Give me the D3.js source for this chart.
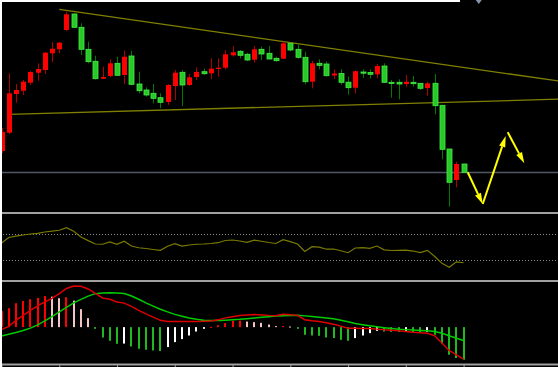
<!DOCTYPE html>
<html><head><meta charset="utf-8">
<script src="https://cdn.jsdelivr.net/npm/d3@7"></script>
<style>html,body{margin:0;padding:0;background:#000;overflow:hidden}svg{display:block}</style>
</head><body>
<script>
// ---- data ----
const open  = [149,167.3,206,209.3,217.3,227.3,230,246.7,250.7,270,286,272.7,250.7,238.7,221.3,224,236.7,225,244,216,210,206.7,202.3,198,214,227.7,215,223,228.3,226.7,231,232.3,244.7,248.7,245.7,240.3,250.7,246.7,241.7,241.3,256.7,250.7,242.7,218.3,236.7,236,224.5,226.5,217.8,212.3,228,227.5,225.7,234,217.7,217.7,216,217.7,216.7,212,216.7,194.7,151,120,136];
const high  = [172,226.7,216,220,229,236.7,248,258,258.3,288.3,286.7,276.7,258.3,244.3,233.3,240.7,243.3,249.3,249.3,228.3,212.7,216,206.7,216,230,230,226,232.7,231.3,241.7,241.7,250,254,250,247.3,254,253.3,254,243.3,258.3,257.3,256.7,248.3,239.3,240.7,238.3,230.5,230.7,223.5,229.5,230.7,230.7,236,236.7,220,220.7,225,224,217,218.3,226,195,151,138.3,136];
const low   = [147,166,197.3,205,215,219.3,226,238,246.7,269,272,245,236.7,220.5,221,222.7,224,216,215,206.7,203.3,196.7,191.7,195,200,194,214,220,225,220.7,223.3,230.7,243.3,241.7,239,237.3,240,240.7,238.3,241,248.7,241.3,215.7,211.7,230.7,223.3,221,215.3,205.5,206.7,222.2,221.5,221.7,217,202.3,200.7,213.3,213.3,210,204.3,185.7,140.7,93.3,112.7,127.7];
const close = [168,206.7,210,218.3,228,231,247.3,251.3,257.3,285.7,272.7,250.7,238.3,221.3,223,236.7,224.7,243.3,215.7,209.3,205,201.7,197.7,215,227.3,215,222.7,228,226.3,231.3,232.3,245.7,247.7,244.7,240,250.7,246,241,239.3,256.7,250,242.7,218.3,236.7,234.7,224.3,226.5,217.7,212.3,228.8,227.2,225.7,234,217.7,216.7,216,218.3,216.3,211.7,216.7,194.3,150.7,117.7,136,127.7];

const rsi = [56.2,64.6,66.6,68.5,70,71.1,73.1,74.3,75.8,79.7,74.2,65.4,59.8,54.6,54.2,57.7,54.2,58.8,51.5,48.8,47.7,46.2,44.9,51.1,55.1,51.5,53.1,54.2,54.6,55.4,56.6,60,60.8,59.2,57.2,60.5,58.8,56.9,55.4,61.2,58.2,54.6,43.1,50.5,49.7,46.6,46.9,44.2,41.2,48.5,48.9,48,51.5,45.7,44.6,44.9,45.1,43.8,41.5,44.9,35.4,24.9,18.8,27.2,25.8];
const rsiLevels = [30, 70];

const hist = [0.16,0.19,0.24,0.263,0.28,0.293,0.313,0.306,0.29,0.30,0.266,0.18,0.09,-0.017,-0.104,-0.137,-0.167,-0.165,-0.194,-0.217,-0.227,-0.234,-0.24,-0.20,-0.15,-0.12,-0.084,-0.044,-0.017,0.003,0.02,0.04,0.063,0.066,0.056,0.05,0.043,0.026,0.01,0.012,0.006,-0.017,-0.077,-0.084,-0.087,-0.104,-0.11,-0.127,-0.137,-0.11,-0.084,-0.06,-0.037,-0.044,-0.047,-0.048,-0.044,-0.05,-0.054,-0.047,-0.077,-0.167,-0.277,-0.31,-0.327];
const macdLine = [-0.025,0.008,0.068,0.118,0.168,0.213,0.253,0.288,0.336,0.388,0.413,0.411,0.383,0.338,0.293,0.28,0.253,0.241,0.208,0.168,0.133,0.101,0.068,0.057,0.056,0.056,0.056,0.056,0.058,0.062,0.073,0.093,0.105,0.116,0.121,0.126,0.123,0.118,0.115,0.13,0.125,0.118,0.075,0.063,0.057,0.045,0.028,0.01,-0.01,-0.012,-0.013,-0.014,-0.02,-0.027,-0.032,-0.037,-0.045,-0.052,-0.057,-0.062,-0.087,-0.16,-0.234,-0.279,-0.322];
const signalLine = [-0.09,-0.072,-0.054,-0.033,-0.01,0.023,0.063,0.106,0.153,0.198,0.243,0.278,0.311,0.336,0.343,0.346,0.343,0.338,0.313,0.28,0.243,0.211,0.179,0.153,0.128,0.11,0.091,0.078,0.068,0.066,0.066,0.069,0.073,0.078,0.085,0.091,0.098,0.105,0.111,0.115,0.118,0.119,0.113,0.107,0.099,0.091,0.083,0.069,0.053,0.036,0.024,0.013,0.004,-0.005,-0.013,-0.021,-0.025,-0.029,-0.033,-0.037,-0.044,-0.061,-0.087,-0.111,-0.134];

// trend lines: two anchors [bar index, price], extended to right edge
const upperTrend = [[8, 290.7], [40, 257.5]];
const lowerTrend = [[1, 185.7], [60, 197.4]];
// hand-drawn yellow arrows: [bar index, price]
const arrowZigzag = [[64.57, 127.7], [66.65, 96], [69.83, 164]];
const arrowLast = [[70.11, 167.7], [72.41, 136.7]];
const timeTicks = [0, 8, 16, 24, 32, 40, 48, 56, 64];
const shiftMarker = 66.1;

// ---- drawing ----
const W = 558, H = 367;
const n = close.length;
const svg = d3.select("body").append("svg").attr("width", W).attr("height", H);
svg.append("rect").attr("width", W).attr("height", H).attr("fill", "#000");

const x = d3.scaleLinear().domain([0, n - 1]).range([1.5, 463.6]);
const y = d3.scaleLinear().domain([88, 298]).range([212, 2]);
const yR = d3.scaleLinear().domain([0, 100]).range([279.5, 214.5]);
const yM = d3.scaleLinear().domain([-0.37, 0.463]).range([364, 281]);

const defs = svg.append("defs");
defs.append("clipPath").attr("id", "cMain").append("rect").attr("x", 0).attr("y", 0).attr("width", W).attr("height", 212);
defs.append("clipPath").attr("id", "cRsi").append("rect").attr("x", 0).attr("y", 214).attr("width", W).attr("height", 66);
defs.append("clipPath").attr("id", "cMacd").append("rect").attr("x", 0).attr("y", 282).attr("width", W).attr("height", 82);

const main = svg.append("g").attr("clip-path", "url(#cMain)");
const xEnd = x.invert(W);

function trend(anchors) {
  const [[i1, p1], [i2, p2]] = anchors;
  const k = (p2 - p1) / (i2 - i1);
  return [[i1, p1], [xEnd, p1 + k * (xEnd - i1)]];
}
const tl = d3.line().x(d => x(d[0])).y(d => y(d[1]));
[upperTrend, lowerTrend].forEach(a => {
  main.append("path").attr("d", tl(trend(a))).attr("fill", "none")
    .attr("stroke", "#808000").attr("stroke-width", 1.3);
});

// bid line
main.append("line").attr("x1", 0).attr("x2", W)
  .attr("y1", Math.round(y(close[n - 1])) + 0.5).attr("y2", Math.round(y(close[n - 1])) + 0.5)
  .attr("stroke", "#4f5866").attr("stroke-width", 1.5);

const idx = d3.range(n);
const up = i => close[i] >= open[i];
// wicks
main.selectAll(".wick").data(idx).enter().append("line")
  .attr("x1", i => Math.round(x(i)) + 0.5).attr("x2", i => Math.round(x(i)) + 0.5)
  .attr("y1", i => y(high[i])).attr("y2", i => y(low[i]))
  .attr("stroke", i => up(i) ? "#b00000" : "#007a00").attr("stroke-width", 1);
// bodies
main.selectAll(".body").data(idx).enter().append("rect")
  .attr("x", i => Math.round(x(i)) - 2)
  .attr("y", i => y(Math.max(open[i], close[i])))
  .attr("width", 5)
  .attr("height", i => Math.max(1.2, Math.abs(y(open[i]) - y(close[i]))))
  .attr("fill", i => up(i) ? "#ff0000" : "#28c828")
  .attr("stroke", i => up(i) ? "#ff0000" : "#44ee44")
  .attr("stroke-width", i => up(i) ? 0 : 0.8);

// arrows
function arrow(g, a, b) {
  const x1 = x(a[0]), y1 = y(a[1]), x2 = x(b[0]), y2 = y(b[1]);
  const dx = x2 - x1, dy = y2 - y1, L = Math.hypot(dx, dy);
  const ux = dx / L, uy = dy / L, hl = 11, hw = 3.2;
  const bx = x2 - ux * hl, by = y2 - uy * hl;
  g.append("line").attr("x1", x1).attr("y1", y1).attr("x2", bx).attr("y2", by)
    .attr("stroke", "#ffff00").attr("stroke-width", 2);
  g.append("polygon").attr("points", [[x2, y2], [bx - uy * hw, by + ux * hw], [bx + uy * hw, by - ux * hw]].map(p => p.join(",")).join(" "))
    .attr("fill", "#ffff00");
}
arrow(main, arrowZigzag[0], arrowZigzag[1]);
arrow(main, arrowZigzag[1], arrowZigzag[2]);
arrow(main, arrowLast[0], arrowLast[1]);

// shift marker at top
main.append("path").attr("d", d3.line()([[x(shiftMarker) - 3, 0], [x(shiftMarker) + 3, 0], [x(shiftMarker), 4]]) + "Z")
  .attr("fill", "#8494aa");

// ---- RSI panel ----
const rg = svg.append("g").attr("clip-path", "url(#cRsi)");
rg.selectAll(".lvl").data(rsiLevels).enter().append("line")
  .attr("x1", 0).attr("x2", W)
  .attr("y1", d => Math.round(yR(d)) + 0.5).attr("y2", d => Math.round(yR(d)) + 0.5)
  .attr("stroke", "#8a8a8a").attr("stroke-width", 1).attr("stroke-dasharray", "1,2");
rg.append("path").attr("d", d3.line().x((d, i) => x(i)).y(d => yR(d))(rsi))
  .attr("fill", "none").attr("stroke", "#7a7a00").attr("stroke-width", 1.2);

// ---- MACD panel ----
const mg = svg.append("g").attr("clip-path", "url(#cMacd)");
function barColor(i) {
  const v = hist[i], p = i > 0 ? hist[i - 1] : v;
  if (v >= 0) return v >= p ? "#ff0000" : "#f2c4c4";
  return v < p ? "#1fb81f" : "#ffffff";
}
mg.selectAll(".bar").data(idx).enter().append("rect")
  .attr("x", i => Math.round(x(i)) - 1)
  .attr("y", i => Math.min(yM(0), yM(hist[i])))
  .attr("width", 2)
  .attr("height", i => Math.max(1, Math.abs(yM(hist[i]) - yM(0))))
  .attr("fill", barColor);
const ml = d3.line().x((d, i) => x(i)).y(d => yM(d));
mg.append("path").attr("d", ml(signalLine)).attr("fill", "none").attr("stroke", "#00cc00").attr("stroke-width", 1.5);
mg.append("path").attr("d", ml(macdLine)).attr("fill", "none").attr("stroke", "#dd0000").attr("stroke-width", 1.5);

// ---- separators ----
[213, 281, 364.5].forEach(v => {
  svg.append("line").attr("x1", 0).attr("x2", W).attr("y1", v).attr("y2", v)
    .attr("stroke", "#a0a0a0").attr("stroke-width", 1.8);
});
const ax = svg.append("g").attr("transform", "translate(0,365)")
  .call(d3.axisBottom(x).tickValues(timeTicks).tickSize(2).tickFormat(""));
ax.select(".domain").remove();
ax.selectAll("line").attr("stroke", "#a0a0a0");

// frame
svg.append("rect").attr("x", 0).attr("y", 0).attr("width", 2).attr("height", H).attr("fill", "#fff");
svg.append("rect").attr("x", 0).attr("y", 0).attr("width", 460).attr("height", 2).attr("fill", "#fff");
</script>
</body></html>
